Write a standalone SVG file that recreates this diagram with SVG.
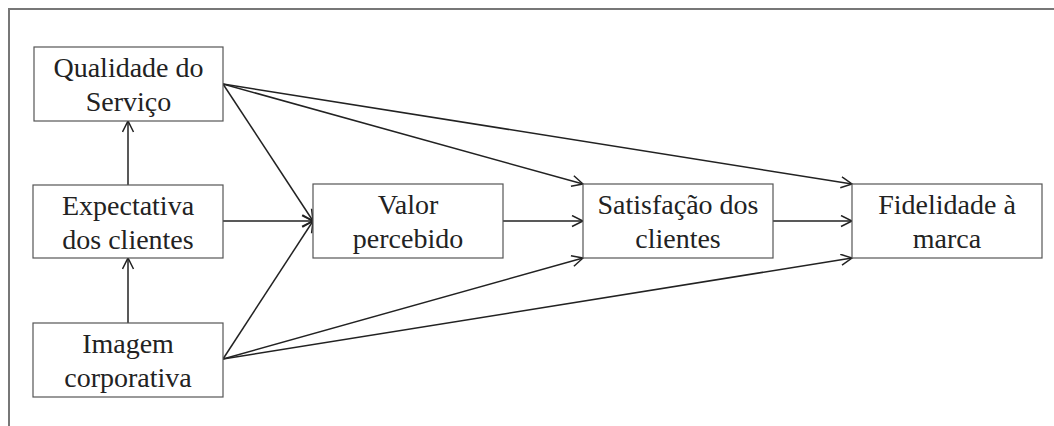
<svg xmlns="http://www.w3.org/2000/svg" width="1054" height="426" viewBox="0 0 1054 426">
<style>
.box{fill:#fff;stroke:#555;stroke-width:1.2}
.t{font-family:'Liberation Serif','Times New Roman','DejaVu Serif',serif;font-size:28px;fill:#222;text-anchor:middle}
.c{stroke:#222;stroke-width:1.5;fill:none;marker-end:url(#ah)}
.frame{stroke:#777;stroke-width:2;fill:none}
</style>
<defs>
<marker id="ah" markerUnits="userSpaceOnUse" markerWidth="14" markerHeight="14" refX="12" refY="6" orient="auto">
<path d="M1,0.5 L12,6 L1,11.5" fill="none" stroke="#222" stroke-width="1.5"/>
</marker>
</defs>
<rect width="1054" height="426" fill="#fff"/>
<path class="frame" d="M9,426 L9,9 L1054,9"/>
<g id="connectors">
<line class="c" x1="128" y1="185" x2="128" y2="121"/>
<line class="c" x1="128" y1="323" x2="128" y2="258"/>
<line class="c" x1="223" y1="84" x2="313" y2="221"/>
<line class="c" x1="223" y1="221" x2="313" y2="221"/>
<line class="c" x1="223" y1="359" x2="313" y2="221"/>
<line class="c" x1="223" y1="84" x2="583" y2="184"/>
<line class="c" x1="223" y1="84" x2="852" y2="184"/>
<line class="c" x1="503" y1="221" x2="583" y2="221"/>
<line class="c" x1="223" y1="359" x2="583" y2="258"/>
<line class="c" x1="223" y1="359" x2="852" y2="258"/>
<line class="c" x1="773" y1="221" x2="852" y2="221"/>
</g>
<g id="qualidade">
<rect class="box" x="34" y="47" width="189" height="74"/>
<text class="t" x="128.5" y="77">Qualidade do</text>
<text class="t" x="128.5" y="111">Serviço</text>
</g>
<g id="expectativa">
<rect class="box" x="33" y="185" width="190" height="73"/>
<text class="t" x="128" y="215">Expectativa</text>
<text class="t" x="128" y="249">dos clientes</text>
</g>
<g id="imagem">
<rect class="box" x="33" y="323" width="190" height="74"/>
<text class="t" x="128" y="353">Imagem</text>
<text class="t" x="128" y="387">corporativa</text>
</g>
<g id="valor">
<rect class="box" x="313" y="184" width="190" height="74"/>
<text class="t" x="408" y="214">Valor</text>
<text class="t" x="408" y="248">percebido</text>
</g>
<g id="satisfacao">
<rect class="box" x="583" y="184" width="190" height="74"/>
<text class="t" x="678" y="214">Satisfação dos</text>
<text class="t" x="678" y="248">clientes</text>
</g>
<g id="fidelidade">
<rect class="box" x="852" y="184" width="190" height="74"/>
<text class="t" x="947" y="214">Fidelidade à</text>
<text class="t" x="947" y="248">marca</text>
</g>
</svg>
